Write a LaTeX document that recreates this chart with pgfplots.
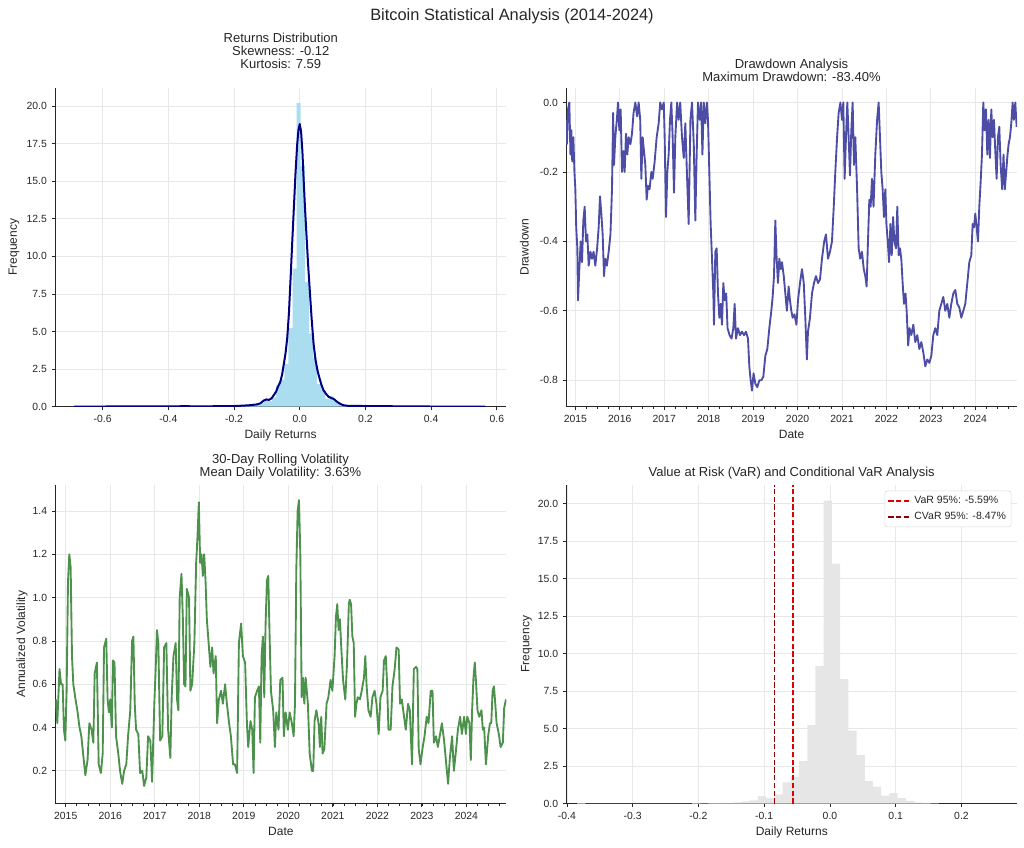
\documentclass[border=0pt]{standalone}
\usepackage{fontspec}
\setmainfont{Liberation Sans}
\usepackage{pgfplots}
\pgfplotsset{compat=1.18}
\usepackage{pgfplotstable}

\definecolor{histblue}{HTML}{ABDDF1}
\definecolor{kdenavy}{HTML}{000080}
\definecolor{ddblue}{HTML}{4D4DA6}
\definecolor{volgreen}{HTML}{4C924C}
\definecolor{histgray}{HTML}{E6E6E6}
\definecolor{cvarred}{HTML}{8B0000}
\definecolor{varred}{HTML}{E00000}
\definecolor{txt}{HTML}{262626}

\pgfplotstableread{
x y
-0.3845 0.03
-0.372 0.0
-0.2095 0.03
-0.197 0.02
-0.1845 0.03
-0.172 0.04
-0.1595 0.05
-0.147 0.08
-0.1345 0.14
-0.122 0.22
-0.1095 0.50
-0.097 0.36
-0.0845 0.62
-0.072 1.42
-0.0595 1.80
-0.047 2.84
-0.0345 5.24
-0.022 9.18
-0.0095 20.2
0.003 16.0
0.0155 8.3
0.028 4.87
0.0405 3.24
0.053 1.5
0.0655 1.13
0.078 0.53
0.0905 0.69
0.103 0.36
0.1155 0.18
0.128 0.08
0.1405 0.05
0.153 0.02
0.1655 0.0
}\histtab

\pgfplotstableread{
x y
-0.687 0.01
-0.6 0.01
-0.5 0.015
-0.4 0.02
-0.35 0.03
-0.3 0.02
-0.25 0.03
-0.2 0.04
-0.17 0.07
-0.15 0.10
-0.13 0.15
-0.12 0.22
-0.11 0.40
-0.102 0.48
-0.094 0.45
-0.086 0.55
-0.078 0.80
-0.072 1.00
-0.066 1.35
-0.060 1.60
-0.054 2.10
-0.048 2.90
-0.043 3.60
-0.038 4.60
-0.033 6.20
-0.028 8.50
-0.023 10.9
-0.018 13.2
-0.013 15.5
-0.008 17.4
-0.004 18.4
0.0 18.8
0.004 18.3
0.008 17.0
0.012 15.0
0.016 13.2
0.020 11.6
0.025 9.6
0.030 7.9
0.036 5.9
0.042 4.2
0.048 3.1
0.054 2.4
0.060 1.9
0.066 1.45
0.072 1.10
0.080 0.85
0.088 0.65
0.096 0.58
0.104 0.50
0.112 0.35
0.122 0.20
0.132 0.10
0.145 0.06
0.2 0.04
0.25 0.04
0.3 0.02
0.4 0.01
0.564 0.01
}\kdetab

\pgfplotstableread{
t d
2014.79 -0.05
2014.81 -0.12
2014.835 -0.02
2014.865 0.0
2014.89 -0.15
2014.91 -0.08
2014.93 -0.17
2014.955 -0.10
2014.98 -0.20
2015.0 -0.25
2015.02 -0.36
2015.045 -0.42
2015.06 -0.57
2015.09 -0.48
2015.12 -0.40
2015.15 -0.46
2015.18 -0.34
2015.21 -0.30
2015.24 -0.40
2015.27 -0.38
2015.30 -0.47
2015.34 -0.43
2015.375 -0.45
2015.41 -0.43
2015.45 -0.47
2015.49 -0.42
2015.525 -0.36
2015.555 -0.27
2015.585 -0.32
2015.615 -0.38
2015.645 -0.50
2015.675 -0.45
2015.71 -0.47
2015.75 -0.43
2015.79 -0.38
2015.825 -0.25
2015.85 -0.03
2015.87 -0.18
2015.90 -0.10
2015.94 -0.04
2015.96 0.0
2015.99 -0.08
2016.02 -0.02
2016.05 -0.20
2016.08 -0.14
2016.11 -0.20
2016.14 -0.09
2016.17 -0.15
2016.20 -0.10
2016.24 -0.12
2016.275 -0.09
2016.31 -0.03
2016.35 0.0
2016.39 -0.04
2016.425 0.0
2016.46 -0.05
2016.485 -0.22
2016.515 -0.10
2016.545 -0.14
2016.575 -0.18
2016.605 -0.28
2016.635 -0.24
2016.67 -0.25
2016.71 -0.20
2016.74 -0.22
2016.785 -0.17
2016.83 -0.10
2016.875 -0.06
2016.91 0.0
2016.95 -0.02
2016.99 0.0
2017.01 -0.10
2017.04 -0.33
2017.07 -0.20
2017.10 -0.15
2017.13 -0.05
2017.16 0.0
2017.19 -0.10
2017.22 -0.26
2017.25 -0.10
2017.29 0.0
2017.325 -0.05
2017.36 0.0
2017.40 -0.10
2017.44 -0.16
2017.475 -0.06
2017.51 -0.20
2017.55 -0.35
2017.59 -0.05
2017.625 0.0
2017.665 -0.12
2017.70 -0.34
2017.73 -0.15
2017.76 0.0
2017.80 -0.05
2017.83 0.0
2017.86 -0.15
2017.89 0.0
2017.925 -0.06
2017.96 0.0
2017.985 -0.05
2018.015 -0.20
2018.045 -0.35
2018.075 -0.45
2018.105 -0.55
2018.12 -0.64
2018.15 -0.43
2018.18 -0.42
2018.21 -0.55
2018.24 -0.62
2018.27 -0.58
2018.30 -0.64
2018.33 -0.52
2018.36 -0.57
2018.395 -0.55
2018.425 -0.65
2018.47 -0.67
2018.515 -0.68
2018.555 -0.65
2018.585 -0.58
2018.615 -0.68
2018.66 -0.65
2018.705 -0.67
2018.75 -0.66
2018.795 -0.67
2018.84 -0.66
2018.885 -0.68
2018.915 -0.76
2018.945 -0.80
2018.975 -0.83
2019.01 -0.78
2019.05 -0.81
2019.095 -0.82
2019.14 -0.80
2019.185 -0.80
2019.23 -0.79
2019.275 -0.73
2019.32 -0.71
2019.365 -0.65
2019.41 -0.60
2019.44 -0.56
2019.47 -0.50
2019.50 -0.34
2019.53 -0.45
2019.56 -0.52
2019.59 -0.45
2019.62 -0.48
2019.65 -0.46
2019.69 -0.50
2019.725 -0.55
2019.76 -0.60
2019.80 -0.53
2019.83 -0.57
2019.86 -0.60
2019.89 -0.62
2019.93 -0.61
2019.975 -0.64
2020.01 -0.57
2020.055 -0.52
2020.10 -0.48
2020.14 -0.52
2020.175 -0.62
2020.21 -0.74
2020.235 -0.66
2020.28 -0.62
2020.325 -0.55
2020.37 -0.52
2020.415 -0.50
2020.46 -0.52
2020.505 -0.51
2020.55 -0.45
2020.60 -0.40
2020.64 -0.38
2020.685 -0.45
2020.73 -0.43
2020.775 -0.40
2020.815 -0.30
2020.85 -0.20
2020.89 -0.10
2020.925 -0.03
2020.965 0.0
2021.00 -0.05
2021.03 0.0
2021.06 -0.22
2021.09 -0.10
2021.12 0.0
2021.15 -0.10
2021.18 -0.21
2021.21 -0.08
2021.24 0.0
2021.27 -0.18
2021.30 -0.10
2021.34 -0.25
2021.375 -0.42
2021.41 -0.45
2021.45 -0.43
2021.49 -0.48
2021.525 -0.50
2021.555 -0.53
2021.585 -0.40
2021.615 -0.28
2021.645 -0.30
2021.675 -0.22
2021.71 -0.30
2021.75 -0.15
2021.79 -0.05
2021.825 0.0
2021.855 -0.10
2021.885 -0.20
2021.915 -0.25
2021.945 -0.33
2021.975 -0.25
2022.00 -0.35
2022.03 -0.40
2022.06 -0.46
2022.09 -0.35
2022.12 -0.44
2022.15 -0.33
2022.18 -0.40
2022.215 -0.42
2022.245 -0.30
2022.275 -0.44
2022.305 -0.42
2022.335 -0.45
2022.365 -0.52
2022.395 -0.58
2022.43 -0.55
2022.455 -0.60
2022.49 -0.70
2022.52 -0.65
2022.56 -0.67
2022.605 -0.64
2022.65 -0.69
2022.695 -0.67
2022.74 -0.71
2022.785 -0.69
2022.83 -0.72
2022.875 -0.76
2022.92 -0.74
2022.965 -0.75
2023.01 -0.73
2023.055 -0.67
2023.10 -0.65
2023.145 -0.67
2023.19 -0.60
2023.235 -0.58
2023.28 -0.56
2023.325 -0.60
2023.37 -0.58
2023.415 -0.62
2023.46 -0.58
2023.505 -0.55
2023.55 -0.54
2023.595 -0.58
2023.64 -0.59
2023.685 -0.62
2023.73 -0.60
2023.775 -0.58
2023.82 -0.52
2023.865 -0.46
2023.91 -0.44
2023.94 -0.35
2023.97 -0.36
2024.00 -0.32
2024.03 -0.36
2024.06 -0.40
2024.09 -0.30
2024.12 -0.23
2024.15 -0.15
2024.18 0.0
2024.21 -0.08
2024.24 -0.02
2024.27 -0.15
2024.30 -0.05
2024.33 -0.16
2024.36 -0.02
2024.39 -0.10
2024.42 -0.05
2024.45 -0.14
2024.48 -0.22
2024.51 -0.10
2024.54 -0.07
2024.57 -0.18
2024.605 -0.25
2024.635 -0.15
2024.665 -0.25
2024.695 -0.20
2024.725 -0.15
2024.75 -0.12
2024.78 -0.10
2024.81 -0.06
2024.84 0.0
2024.87 -0.05
2024.90 0.0
2024.93 -0.07
}\ddtab

\pgfplotstableread{
t v
2014.78 0.53
2014.81 0.42
2014.86 0.67
2014.895 0.60
2014.93 0.60
2014.96 0.39
2014.99 0.34
2015.02 0.57
2015.05 1.07
2015.08 1.20
2015.11 1.14
2015.14 0.73
2015.17 0.60
2015.22 0.53
2015.26 0.48
2015.31 0.40
2015.35 0.36
2015.40 0.26
2015.44 0.18
2015.49 0.25
2015.53 0.42
2015.58 0.39
2015.62 0.33
2015.65 0.65
2015.70 0.70
2015.74 0.23
2015.79 0.19
2015.83 0.28
2015.86 0.77
2015.91 0.81
2015.94 0.53
2015.97 0.47
2016.00 0.53
2016.035 0.40
2016.06 0.71
2016.095 0.70
2016.13 0.36
2016.18 0.28
2016.22 0.20
2016.27 0.14
2016.31 0.20
2016.36 0.23
2016.40 0.36
2016.45 0.48
2016.49 0.80
2016.52 0.82
2016.55 0.51
2016.58 0.39
2016.63 0.37
2016.67 0.19
2016.72 0.20
2016.76 0.13
2016.81 0.17
2016.85 0.36
2016.90 0.34
2016.94 0.15
2016.99 0.51
2017.02 0.67
2017.05 0.85
2017.08 0.79
2017.12 0.34
2017.17 0.36
2017.21 0.77
2017.26 0.79
2017.30 0.39
2017.35 0.26
2017.38 0.54
2017.42 0.73
2017.47 0.79
2017.50 0.53
2017.53 0.48
2017.56 1.00
2017.60 1.11
2017.63 0.91
2017.66 0.60
2017.69 0.59
2017.72 1.04
2017.77 1.00
2017.80 0.57
2017.84 0.60
2017.89 0.79
2017.93 1.16
2017.96 1.28
2017.99 1.44
2018.02 1.16
2018.05 1.20
2018.08 1.10
2018.11 1.20
2018.14 1.08
2018.17 0.90
2018.21 0.79
2018.25 0.68
2018.29 0.77
2018.32 0.65
2018.37 0.73
2018.40 0.42
2018.44 0.53
2018.49 0.57
2018.53 0.51
2018.58 0.60
2018.62 0.51
2018.67 0.42
2018.71 0.36
2018.76 0.23
2018.80 0.23
2018.85 0.19
2018.89 0.79
2018.94 0.88
2018.98 0.73
2019.03 0.70
2019.07 0.42
2019.10 0.31
2019.15 0.43
2019.19 0.39
2019.22 0.19
2019.25 0.54
2019.30 0.57
2019.34 0.59
2019.37 0.33
2019.40 0.73
2019.43 0.82
2019.46 0.54
2019.49 0.88
2019.52 1.08
2019.55 1.10
2019.58 0.82
2019.61 0.57
2019.66 0.48
2019.70 0.31
2019.73 0.47
2019.78 0.39
2019.82 0.62
2019.87 0.63
2019.90 0.36
2019.94 0.47
2019.99 0.39
2020.03 0.47
2020.08 0.42
2020.12 0.36
2020.15 0.51
2020.18 1.13
2020.21 1.40
2020.24 1.45
2020.27 1.20
2020.30 0.54
2020.33 0.63
2020.36 0.51
2020.39 0.63
2020.44 0.51
2020.48 0.28
2020.53 0.20
2020.56 0.20
2020.59 0.43
2020.63 0.48
2020.68 0.42
2020.71 0.31
2020.74 0.45
2020.77 0.28
2020.81 0.30
2020.86 0.51
2020.90 0.54
2020.95 0.62
2020.99 0.57
2021.04 0.73
2021.07 0.91
2021.10 0.97
2021.13 0.85
2021.16 0.90
2021.19 0.77
2021.23 0.62
2021.28 0.53
2021.32 0.70
2021.36 0.97
2021.38 0.99
2021.41 0.97
2021.44 0.82
2021.47 0.79
2021.50 0.45
2021.53 0.51
2021.56 0.54
2021.61 0.53
2021.65 0.57
2021.70 0.63
2021.73 0.73
2021.76 0.59
2021.80 0.48
2021.85 0.45
2021.89 0.54
2021.94 0.57
2021.98 0.51
2022.03 0.37
2022.07 0.54
2022.12 0.57
2022.15 0.71
2022.19 0.73
2022.22 0.60
2022.25 0.39
2022.30 0.39
2022.34 0.59
2022.39 0.67
2022.43 0.77
2022.48 0.76
2022.51 0.51
2022.55 0.53
2022.60 0.45
2022.64 0.39
2022.69 0.51
2022.73 0.48
2022.78 0.23
2022.82 0.67
2022.87 0.68
2022.90 0.67
2022.93 0.30
2022.97 0.23
2023.02 0.31
2023.06 0.36
2023.11 0.45
2023.15 0.42
2023.20 0.57
2023.24 0.57
2023.27 0.33
2023.32 0.36
2023.36 0.31
2023.41 0.37
2023.45 0.42
2023.50 0.34
2023.54 0.25
2023.59 0.14
2023.63 0.26
2023.68 0.36
2023.72 0.20
2023.77 0.30
2023.81 0.39
2023.86 0.45
2023.90 0.37
2023.95 0.45
2023.99 0.37
2024.02 0.45
2024.07 0.42
2024.10 0.25
2024.13 0.48
2024.16 0.63
2024.19 0.70
2024.22 0.60
2024.25 0.48
2024.29 0.45
2024.34 0.48
2024.37 0.39
2024.40 0.40
2024.44 0.23
2024.49 0.36
2024.53 0.42
2024.56 0.42
2024.59 0.57
2024.62 0.59
2024.65 0.51
2024.68 0.42
2024.73 0.37
2024.77 0.31
2024.82 0.33
2024.85 0.49
2024.89 0.53
}\voltab

\pgfplotsset{
  base/.style={
    scale only axis, width=338.3pt, height=239pt,
    axis x line=bottom, axis y line=left,
    axis line style={-, txt, line width=0.6pt},
    tick align=outside,
    major tick length=2.6pt, minor tick length=1.5pt,
    every tick/.style={txt, line width=0.6pt},
    tick label style={font=\fontsize{7.8}{9}\selectfont, text=txt},
    /pgf/number format/assume math mode=true,
    grid=major, major grid style={black!9, line width=0.6pt},
    every axis x label/.style={at={(axis description cs:0.5,-0.0996)}, anchor=base,
      font=\fontsize{9}{11}\selectfont, text=txt},
    axis on top=false,
  },
  ylab/.style={every axis y label/.style={at={(axis description cs:#1,0.5)}, rotate=90,
      anchor=base, font=\fontsize{9}{11}\selectfont, text=txt}},
  onedec/.style={/pgf/number format/.cd, fixed, fixed zerofill, precision=1},
  datex/.style={xtick={2015,2016,2017,2018,2019,2020,2021,2022,2023,2024},
    minor xtick={2015.25,2015.5,...,2024.75},
    xticklabel style={/pgf/number format/1000 sep={}}},
}

\begin{document}
\begin{tikzpicture}
\useasboundingbox (0,0) rectangle (768pt,636pt);

% Top-left: returns distribution
\begin{axis}[base, at={(41.25pt,331pt)}, anchor=south west,
  xmin=-0.745, xmax=0.628, ymin=0, ymax=21.2,
  xtick={-0.6,-0.4,-0.2,0,0.2,0.4,0.6},
  ytick={0,2.5,5,7.5,10,12.5,15,17.5,20},
  xticklabel style={onedec}, yticklabel style={onedec},
  xlabel={Daily Returns}, ylabel={Frequency}, ylab=-0.0848]
\addplot[fill=histblue, draw=none, const plot mark left] table[x=x,y=y]{\histtab} \closedcycle;
\addplot[kdenavy, line width=1.5pt, line join=round] table[x=x,y=y]{\kdetab};
\end{axis}

% Top-right: drawdown
\begin{axis}[base, datex, at={(424.5pt,331pt)}, anchor=south west,
  xmin=2014.79, xmax=2024.94, ymin=-0.876, ymax=0.0417,
  ytick={-0.8,-0.6,-0.4,-0.2,0},
  yticklabel style={onedec},
  xlabel={Date}, ylabel={Drawdown}, ylab=-0.083]
\addplot[ddblue, line width=1.4pt, line join=round] table[x=t,y=d]{\ddtab};
\end{axis}

% Bottom-left: volatility
\begin{axis}[base, datex, at={(41.5pt,33.3pt)}, anchor=south west,
  xmin=2014.766, xmax=2024.90, ymin=0.049, ymax=1.52,
  ytick={0.2,0.4,0.6,0.8,1.0,1.2,1.4},
  yticklabel style={onedec},
  xlabel={Date}, ylabel={Annualized Volatility}, ylab=-0.067]
\addplot[volgreen, line width=1.4pt, line join=round] table[x=t,y=v]{\voltab};
\end{axis}

% Bottom-right: VaR
\begin{axis}[base, at={(424.7pt,33.3pt)}, anchor=south west,
  xmin=-0.401, xmax=0.285, ymin=0, ymax=21.25,
  xtick={-0.4,-0.3,-0.2,-0.1,0,0.1,0.2},
  ytick={0,2.5,5,7.5,10,12.5,15,17.5,20},
  xticklabel style={onedec}, yticklabel style={onedec},
  xlabel={Daily Returns}, ylabel={Frequency}, ylab=-0.082,
  legend style={at={(0.987,0.982)}, anchor=north east, draw=black!15, fill=white,
    rounded corners=2pt, font=\fontsize{7.9}{9.5}\selectfont, text=txt,
    inner sep=2pt, row sep=1pt},
  legend cell align=left]
\addplot[fill=histgray, draw=none, const plot mark left, forget plot] table[x=x,y=y]{\histtab} \closedcycle;
\addplot[varred, line width=1.1pt, dash pattern=on 4pt off 1.8pt] coordinates {(-0.0559,0) (-0.0559,21.25)};
\addlegendentry{VaR 95\%: -5.59\%}
\addplot[cvarred, line width=1.1pt, dash pattern=on 4pt off 1.8pt] coordinates {(-0.0847,0) (-0.0847,21.25)};
\addlegendentry{CVaR 95\%: -8.47\%}
\end{axis}

\begin{scope}[x=0.75pt, y=0.75pt]
\node[anchor=base, inner sep=0, font=\fontsize{12.3}{14}\selectfont, text=txt] at (512,{848-20.7}) {Bitcoin Statistical Analysis (2014-2024)};
\tikzset{ttl/.style={anchor=base, inner sep=0, font=\fontsize{9.75}{11}\selectfont, text=txt}}
\node[ttl] at (280.8,{848-42.3}) {Returns Distribution};
\node[ttl] at (280.8,{848-55.5}) {Skewness: -0.12};
\node[ttl] at (280.8,{848-68.5}) {Kurtosis: 7.59};
\node[ttl] at (791.5,{848-68.5}) {Drawdown Analysis};
\node[ttl] at (791.5,{848-81.5}) {Maximum Drawdown: -83.40\%};
\node[ttl] at (280.5,{848-464}) {30-Day Rolling Volatility};
\node[ttl] at (280.5,{848-477}) {Mean Daily Volatility: 3.63\%};
\node[ttl] at (791.7,{848-477}) {Value at Risk (VaR) and Conditional VaR Analysis};
\end{scope}
\end{tikzpicture}
\end{document}
